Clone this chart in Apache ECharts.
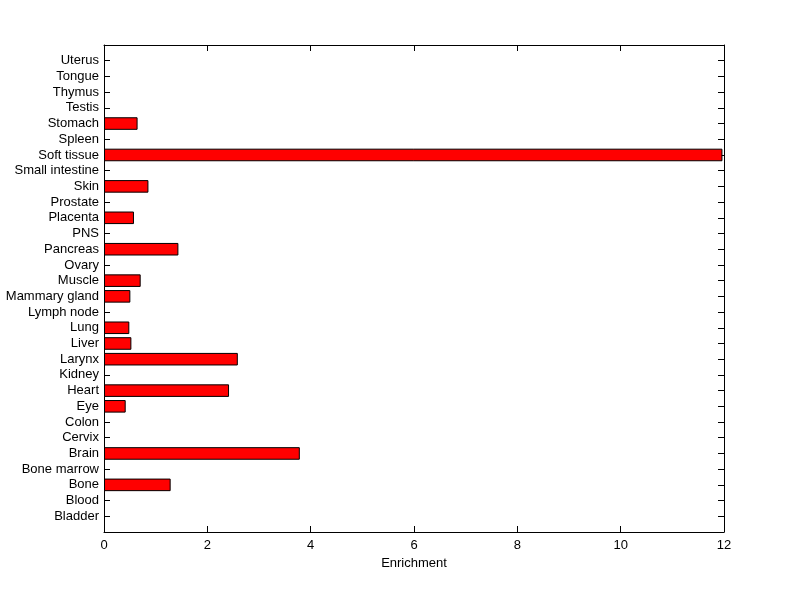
<!DOCTYPE html>
<html>
<head>
<meta charset="utf-8">
<script src="https://cdn.jsdelivr.net/npm/echarts@6/dist/echarts.min.js"></script>
<style>
  html, body { margin: 0; padding: 0; background: #fff; }
  #chart { width: 800px; height: 599px; }
</style>
</head>
<body>
<div id="chart"></div>
<script>
// tissues, bottom to top
var tissues = ['Bladder', 'Blood', 'Bone', 'Bone marrow', 'Brain', 'Cervix', 'Colon', 'Eye',
  'Heart', 'Kidney', 'Larynx', 'Liver', 'Lung', 'Lymph node', 'Mammary gland', 'Muscle',
  'Ovary', 'Pancreas', 'PNS', 'Placenta', 'Prostate', 'Skin', 'Small intestine',
  'Soft tissue', 'Spleen', 'Stomach', 'Testis', 'Thymus', 'Tongue', 'Uterus'];
var enrichment = [0, 0, 1.29, 0, 3.79, 0, 0, 0.42,
  2.42, 0, 2.59, 0.53, 0.49, 0, 0.51, 0.71,
  0, 1.44, 0, 0.58, 0, 0.86, 0,
  11.97, 0, 0.65, 0, 0, 0, 0];
var xTicks = [0, 2, 4, 6, 8, 10, 12];

// one empty slot on each end, like the matlab axis limits
var cats = [''].concat(tissues, ['']);
var vals = ['-'].concat(enrichment.map(function (v) { return v > 0 ? v : '-'; }), ['-']);

var font = 'Liberation Sans, Arial, sans-serif';
var myChart = echarts.init(document.getElementById('chart'));
function yAxisOf(pos, labels) {
  return {
    type: 'category',
    position: pos,
    data: cats,
    boundaryGap: false,
    axisLine: { show: true, onZero: false, lineStyle: { color: '#000', width: 1 } },
    axisTick: { show: true, inside: true, length: 6, interval: 0, lineStyle: { color: '#000' } },
    axisLabel: labels ? { color: '#000', fontFamily: font, fontSize: 13, margin: 5, interval: 0 } : { show: false },
    splitLine: { show: false }
  };
}
function xAxisOf(pos, labels) {
  var ax = {
    type: 'value',
    position: pos,
    min: 0,
    max: 12,
    interval: 2,
    axisLine: { show: true, onZero: false, lineStyle: { color: '#000', width: 1 } },
    axisTick: { show: true, inside: true, length: 6, lineStyle: { color: '#000' } },
    axisLabel: { show: false },
    splitLine: { show: false }
  };
  if (labels) {
    ax.name = 'Enrichment';
    ax.nameLocation = 'middle';
    ax.nameGap = 24;
    ax.nameTextStyle = { color: '#000', fontFamily: font, fontSize: 13 };
    ax.axisLabel = { color: '#000', fontFamily: font, fontSize: 13, margin: 7,
      formatter: function (v) { return xTicks.indexOf(v) >= 0 ? String(v) : ''; } };
  }
  return ax;
}
var option = {
  animation: false,
  backgroundColor: '#fff',
  grid: { left: 104, right: 76, top: 45, bottom: 67 },
  xAxis: [xAxisOf('bottom', true), xAxisOf('top', false)],
  yAxis: [yAxisOf('left', true), yAxisOf('right', false)],
  series: [{
    type: 'bar',
    data: vals,
    barWidth: '80%',
    itemStyle: { color: '#ff0000', borderColor: '#000', borderWidth: 1 }
  }]
};
myChart.setOption(option);
</script>
</body>
</html>
